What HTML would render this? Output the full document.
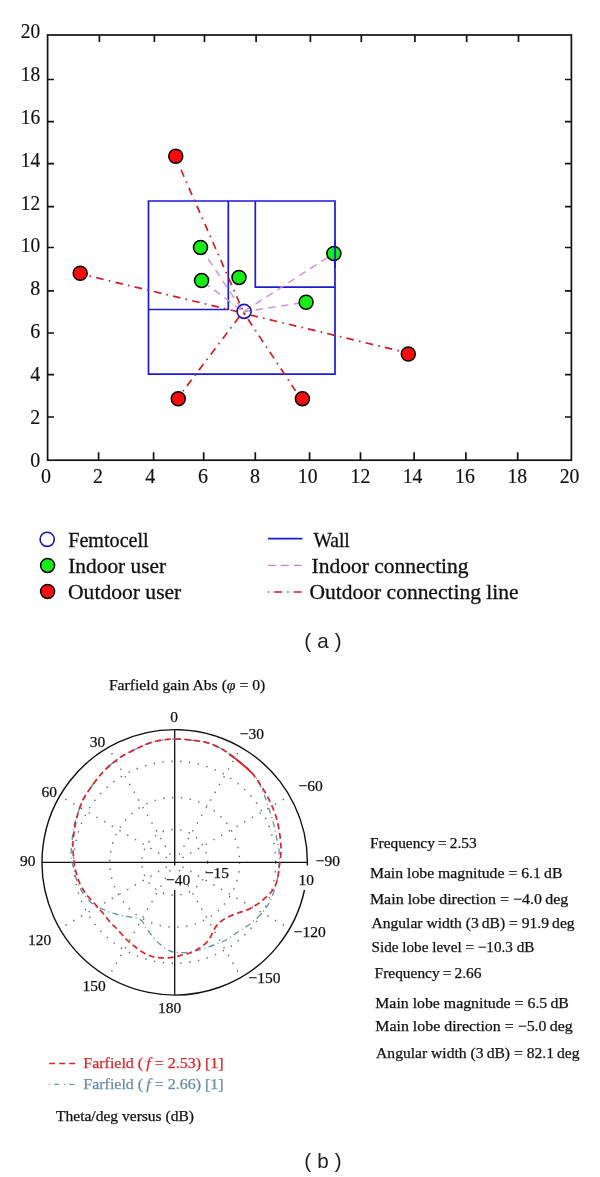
<!DOCTYPE html>
<html><head><meta charset="utf-8"><title>Figure</title>
<style>html,body{margin:0;padding:0;background:#fff;}svg{display:block;}</style></head>
<body><svg width="600" height="1177" viewBox="0 0 600 1177">
<rect width="600" height="1177" fill="#fff"/>
<g fill="none" stroke="#111" stroke-width="1.7">
<rect x="47.6" y="35.0" width="523.8" height="425.2"/>
<path d="M98.6 460.2V452.2M99.4 35.0V42.0M153.6 460.2V452.2M154.4 35.0V42.0M203.7 460.2V452.2M204.5 35.0V42.0M255.3 460.2V452.2M256.1 35.0V42.0M309.6 460.2V452.2M310.4 35.0V42.0M360.5 460.2V452.2M361.3 35.0V42.0M414.1 460.2V452.2M414.9 35.0V42.0M465.9 460.2V452.2M466.7 35.0V42.0M517.7 460.2V452.2M518.5 35.0V42.0M47.6 417.0H54.0M571.4 417.0H565.0M47.6 374.7H54.0M571.4 374.7H565.0M47.6 333.0H54.0M571.4 333.0H565.0M47.6 290.8H54.0M571.4 290.8H565.0M47.6 247.5H54.0M571.4 247.5H565.0M47.6 206.7H54.0M571.4 206.7H565.0M47.6 163.7H54.0M571.4 163.7H565.0M47.6 121.6H54.0M571.4 121.6H565.0M47.6 79.5H54.0M571.4 79.5H565.0"/>
</g>
<g font-family='"Liberation Serif", "Times New Roman", serif' font-size="21" fill="#111" stroke="#111" stroke-width="0.18">
<text x="40.2" y="466.5" text-anchor="end" textLength="10.0" lengthAdjust="spacingAndGlyphs">0</text>
<text x="40.2" y="423.7" text-anchor="end" textLength="10.0" lengthAdjust="spacingAndGlyphs">2</text>
<text x="40.2" y="380.8" text-anchor="end" textLength="10.0" lengthAdjust="spacingAndGlyphs">4</text>
<text x="40.2" y="338.0" text-anchor="end" textLength="10.0" lengthAdjust="spacingAndGlyphs">6</text>
<text x="40.2" y="295.1" text-anchor="end" textLength="10.0" lengthAdjust="spacingAndGlyphs">8</text>
<text x="40.2" y="252.3" text-anchor="end" textLength="19.4" lengthAdjust="spacingAndGlyphs">10</text>
<text x="40.2" y="209.5" text-anchor="end" textLength="19.4" lengthAdjust="spacingAndGlyphs">12</text>
<text x="40.2" y="166.6" text-anchor="end" textLength="19.4" lengthAdjust="spacingAndGlyphs">14</text>
<text x="40.2" y="123.8" text-anchor="end" textLength="19.4" lengthAdjust="spacingAndGlyphs">16</text>
<text x="40.2" y="80.9" text-anchor="end" textLength="19.4" lengthAdjust="spacingAndGlyphs">18</text>
<text x="40.2" y="38.1" text-anchor="end" textLength="19.4" lengthAdjust="spacingAndGlyphs">20</text>
<text x="45.9" y="482.7" text-anchor="middle" textLength="10.0" lengthAdjust="spacingAndGlyphs">0</text>
<text x="98" y="482.7" text-anchor="middle" textLength="10.0" lengthAdjust="spacingAndGlyphs">2</text>
<text x="150.3" y="482.7" text-anchor="middle" textLength="10.0" lengthAdjust="spacingAndGlyphs">4</text>
<text x="203" y="482.7" text-anchor="middle" textLength="10.0" lengthAdjust="spacingAndGlyphs">6</text>
<text x="255.1" y="482.7" text-anchor="middle" textLength="10.0" lengthAdjust="spacingAndGlyphs">8</text>
<text x="307.7" y="482.7" text-anchor="middle" textLength="19.7" lengthAdjust="spacingAndGlyphs">10</text>
<text x="360.4" y="482.7" text-anchor="middle" textLength="19.7" lengthAdjust="spacingAndGlyphs">12</text>
<text x="412.6" y="482.7" text-anchor="middle" textLength="19.7" lengthAdjust="spacingAndGlyphs">14</text>
<text x="464.9" y="482.7" text-anchor="middle" textLength="19.7" lengthAdjust="spacingAndGlyphs">16</text>
<text x="517.3" y="482.7" text-anchor="middle" textLength="19.7" lengthAdjust="spacingAndGlyphs">18</text>
<text x="569.6" y="482.7" text-anchor="middle" textLength="19.7" lengthAdjust="spacingAndGlyphs">20</text>
</g>
<g fill="none" stroke="#1c1ad4" stroke-width="1.7">
<path d="M148.5 201H335V374.2H148.5Z M228.3 201V309.5H148.5 M255.3 201V287.2H335"/>
</g>
<g fill="none" stroke="#cc8ddd" stroke-width="1.4" stroke-dasharray="7.5 5.5">
<path d="M200.5 247.4L243.3 311.8" stroke-dashoffset="11.9"/>
<path d="M201.6 280.6L243.3 311.8" stroke-dashoffset="10.5"/>
<path d="M333.9 253.5L243.3 311.8" stroke-dashoffset="5.4"/>
<path d="M306.1 302.2L243.3 311.8" stroke-dashoffset="8.3"/>
</g>
<g fill="none" stroke="#cf1e26" stroke-width="1.7" stroke-dasharray="7.6 5.2 1.6 5.34">
<path d="M178.8 164.8L244.1 313.3" stroke-dashoffset="14.30"/>
<path d="M89.2 276.0L244.3 313.3" stroke-dashoffset="12.50"/>
<path d="M399.3 350.9L244.0 313.5" stroke-dashoffset="12.41"/>
<path d="M182.9 391.3L241.9 313.3" stroke-dashoffset="12.94"/>
<path d="M295.6 390.9L244.1 313.3" stroke-dashoffset="0.46"/>
</g>
<g stroke="#000" stroke-width="1.5">
<circle cx="175.75" cy="156.25" r="7.0" fill="#ff0a0a"/>
<circle cx="80.2" cy="273.25" r="7.0" fill="#ff0a0a"/>
<circle cx="408.3" cy="354.0" r="7.0" fill="#ff0a0a"/>
<circle cx="178.25" cy="398.75" r="7.0" fill="#ff0a0a"/>
<circle cx="302.4" cy="398.7" r="7.0" fill="#ff0a0a"/>
<circle cx="200.5" cy="247.4" r="7.0" fill="#14ee14"/>
<circle cx="201.6" cy="280.6" r="7.0" fill="#14ee14"/>
<circle cx="239.0" cy="277.4" r="7.0" fill="#14ee14"/>
<circle cx="333.9" cy="253.5" r="7.0" fill="#14ee14"/>
<circle cx="306.1" cy="302.25" r="7.0" fill="#14ee14"/>
</g>
<path d="M335 240V268" stroke="#1c1ad4" stroke-width="1.7"/>
<circle cx="244.1" cy="311.4" r="7.0" fill="none" stroke="#1c14b0" stroke-width="1.6"/>
<circle cx="47.2" cy="539.3" r="7.1" fill="#fff" stroke="#1c14b0" stroke-width="1.6"/>
<circle cx="47.6" cy="565.4" r="7.0" fill="#14ee14" stroke="#000" stroke-width="1.5"/>
<circle cx="47.6" cy="591.4" r="7.0" fill="#ff0a0a" stroke="#000" stroke-width="1.5"/>
<path d="M268 538.7H302.4" stroke="#1c1ad4" stroke-width="1.7"/>
<path d="M268 565.3H302.4" stroke="#c67fd8" stroke-width="1.3" stroke-dasharray="7.8 5.2"/>
<path d="M267.75 592H302.4" stroke="#c8222a" stroke-width="1.6" stroke-dasharray="1.3 5.0 8 5.3"/>
<g font-family='"Liberation Serif", "Times New Roman", serif' font-size="21" fill="#111" stroke="#111" stroke-width="0.3">
<text x="68.2" y="546.9" textLength="80.5" lengthAdjust="spacingAndGlyphs">Femtocell</text>
<text x="68.2" y="572.9" textLength="98" lengthAdjust="spacingAndGlyphs">Indoor user</text>
<text x="68" y="598.5" textLength="113.3" lengthAdjust="spacingAndGlyphs">Outdoor user</text>
<text x="313.4" y="546.5" textLength="36.4" lengthAdjust="spacingAndGlyphs">Wall</text>
<text x="311.5" y="572.5" textLength="157.1" lengthAdjust="spacingAndGlyphs">Indoor connecting</text>
<text x="309.6" y="599" textLength="208.9" lengthAdjust="spacingAndGlyphs">Outdoor connecting line</text>
</g>
<text x="322.9" y="647.6" font-family='"Liberation Sans", Arial, sans-serif' font-size="20.6" fill="#222" text-anchor="middle" xml:space="preserve" textLength="37.4" lengthAdjust="spacing">( a )</text>
<text x="108.9" y="689.7" font-family='"Liberation Serif", "Times New Roman", serif' font-size="15" fill="#111" stroke="#111" stroke-width="0.25" textLength="156.4" lengthAdjust="spacingAndGlyphs">Farfield gain Abs (<tspan font-style="italic">φ</tspan> = 0)</text>
<g fill="none" stroke="#666" stroke-width="1.4" stroke-dasharray="1.4 7.5">
<circle cx="174.7" cy="862.3" r="32.9"/>
<circle cx="174.7" cy="862.3" r="64.9"/>
<circle cx="174.7" cy="862.3" r="101.0"/>
<path d="M179.2 854.5L241.0 747.4M182.5 857.8L289.6 795.9M182.5 866.8L289.6 928.6M179.2 870.1L241.0 977.2M170.2 870.1L108.3 977.2M166.9 866.8L59.8 928.6M166.9 857.8L59.8 795.9M170.2 854.5L108.3 747.4"/>
</g>
<path d="M307.36 865.50A132.7 132.7 0 1 0 304.48 890.00" fill="none" stroke="#111" stroke-width="1.4"/>
<path d="M42.0 862.3H307.4M174.7 729.6V865.4M174.7 890V995.0" fill="none" stroke="#111" stroke-width="1.3"/>
<path d="M175.0 739.0C180.0 738.9 184.8 739.4 190.0 740.0C195.2 740.6 201.0 741.1 206.0 742.4C211.0 743.7 215.7 745.7 220.0 748.0C224.3 750.3 228.3 753.3 232.0 756.0C235.7 758.7 238.8 761.3 242.0 764.0C245.2 766.7 248.3 769.2 251.0 772.0C253.7 774.8 255.8 777.3 258.0 781.0C260.2 784.7 262.3 789.8 264.0 794.0C265.7 798.2 266.7 802.0 268.0 806.0C269.3 810.0 270.8 814.0 272.0 818.0C273.2 822.0 274.2 826.3 275.0 830.0C275.8 833.7 276.3 836.7 277.0 840.0C277.7 843.3 278.7 846.3 279.0 850.0C279.3 853.7 279.0 859.0 279.0 862.0C279.0 865.0 279.2 865.7 279.0 868.0C278.8 870.3 278.5 873.3 278.0 876.0C277.5 878.7 276.8 881.0 276.0 884.0C275.2 887.0 274.3 890.5 273.0 894.0C271.7 897.5 270.2 901.5 268.0 905.0C265.8 908.5 263.0 911.8 260.0 915.0C257.0 918.2 253.7 921.2 250.0 924.0C246.3 926.8 242.0 929.3 238.0 932.0C234.0 934.7 230.0 937.8 226.0 940.0C222.0 942.2 218.0 943.5 214.0 945.0C210.0 946.5 206.0 947.8 202.0 949.0C198.0 950.2 194.0 951.4 190.0 952.0C186.0 952.6 181.3 952.7 178.0 952.5C174.7 952.3 172.7 952.1 170.0 951.0C167.3 949.9 164.7 948.2 162.0 946.0C159.3 943.8 156.7 941.0 154.0 938.0C151.3 935.0 148.0 930.8 146.0 928.0C144.0 925.2 143.7 922.7 142.0 921.0C140.3 919.3 139.0 918.8 136.0 918.0C133.0 917.2 128.0 916.8 124.0 916.0C120.0 915.2 116.0 914.3 112.0 913.0C108.0 911.7 103.0 909.3 100.0 908.0C97.0 906.7 96.3 906.8 94.0 905.0C91.7 903.2 88.3 899.8 86.0 897.0C83.7 894.2 81.7 891.2 80.0 888.0C78.3 884.8 77.2 881.7 76.0 878.0C74.8 874.3 73.8 869.3 73.0 866.0C72.2 862.7 71.2 862.0 71.0 858.0C70.8 854.0 71.5 847.3 72.0 842.0C72.5 836.7 72.8 831.3 74.0 826.0C75.2 820.7 77.3 814.7 79.0 810.0C80.7 805.3 81.5 802.5 84.0 798.0C86.5 793.5 90.7 787.5 94.0 783.0C97.3 778.5 100.7 774.5 104.0 771.0C107.3 767.5 110.7 764.7 114.0 762.0C117.3 759.3 120.3 757.2 124.0 755.0C127.7 752.8 132.0 750.9 136.0 749.0C140.0 747.1 144.0 745.0 148.0 743.6C152.0 742.2 155.5 741.2 160.0 740.4C164.5 739.6 170.0 739.1 175.0 739.0Z" fill="none" stroke="#6390ab" stroke-width="1.35" stroke-dasharray="6 3.5 1 3.5"/>
<path d="M175.0 739.0C180.0 738.9 184.8 739.4 190.0 740.0C195.2 740.6 201.0 741.1 206.0 742.4C211.0 743.7 215.7 745.7 220.0 748.0C224.3 750.3 228.3 753.3 232.0 756.0C235.7 758.7 238.8 761.3 242.0 764.0C245.2 766.7 248.3 769.2 251.0 772.0C253.7 774.8 255.5 777.3 258.0 781.0C260.5 784.7 263.7 789.8 266.0 794.0C268.3 798.2 270.2 801.7 272.0 806.0C273.8 810.3 275.7 815.0 277.0 820.0C278.3 825.0 279.3 831.0 280.0 836.0C280.7 841.0 281.0 845.7 281.0 850.0C281.0 854.3 280.3 859.0 280.0 862.0C279.7 865.0 279.3 865.7 279.0 868.0C278.7 870.3 278.5 873.3 278.0 876.0C277.5 878.7 277.0 881.5 276.0 884.0C275.0 886.5 274.0 888.5 272.0 891.0C270.0 893.5 266.7 896.7 264.0 899.0C261.3 901.3 258.7 903.2 256.0 905.0C253.3 906.8 251.0 908.3 248.0 909.6C245.0 910.9 241.3 911.8 238.0 913.0C234.7 914.2 231.0 915.5 228.0 917.0C225.0 918.5 222.2 920.2 220.0 922.0C217.8 923.8 216.5 925.7 215.0 928.0C213.5 930.3 212.5 933.5 211.0 936.0C209.5 938.5 208.2 940.8 206.0 943.0C203.8 945.2 200.7 947.3 198.0 949.0C195.3 950.7 192.7 952.0 190.0 953.0C187.3 954.0 184.7 954.3 182.0 955.0C179.3 955.7 177.0 956.5 174.0 957.0C171.0 957.5 167.3 958.0 164.0 958.0C160.7 958.0 157.3 957.8 154.0 957.0C150.7 956.2 147.3 954.8 144.0 953.0C140.7 951.2 137.0 948.3 134.0 946.0C131.0 943.7 128.7 941.7 126.0 939.0C123.3 936.3 120.7 932.8 118.0 930.0C115.3 927.2 112.7 925.0 110.0 922.0C107.3 919.0 104.7 915.2 102.0 912.0C99.3 908.8 96.7 906.0 94.0 903.0C91.3 900.0 88.3 897.2 86.0 894.0C83.7 890.8 81.7 887.7 80.0 884.0C78.3 880.3 77.0 875.7 76.0 872.0C75.0 868.3 74.5 865.7 74.0 862.0C73.5 858.3 73.2 853.3 73.0 850.0C72.8 846.7 72.7 846.0 73.0 842.0C73.3 838.0 74.0 831.3 75.0 826.0C76.0 820.7 77.5 814.7 79.0 810.0C80.5 805.3 81.5 802.5 84.0 798.0C86.5 793.5 90.7 787.5 94.0 783.0C97.3 778.5 100.7 774.5 104.0 771.0C107.3 767.5 110.7 764.7 114.0 762.0C117.3 759.3 120.3 757.2 124.0 755.0C127.7 752.8 132.0 750.9 136.0 749.0C140.0 747.1 144.0 745.0 148.0 743.6C152.0 742.2 155.5 741.2 160.0 740.4C164.5 739.6 170.0 739.1 175.0 739.0Z" fill="none" stroke="#d8262a" stroke-width="1.7" stroke-dasharray="6 3.6"/>
<path d="M229.5 754.6C233.5 757 237.5 760.5 242 764C245.5 766.8 248.5 769.5 251.3 772.6" fill="none" stroke="#d8262a" stroke-width="1.7"/>
<g font-family='"Liberation Serif", "Times New Roman", serif' font-size="15.5" fill="#111" stroke="#111" stroke-width="0.25">
<text x="174.2" y="721.7" text-anchor="middle">0</text>
<text x="97.5" y="747.2" text-anchor="middle">30</text>
<text x="251.9" y="739.2" text-anchor="middle">−30</text>
<text x="49.2" y="797.2" text-anchor="middle">60</text>
<text x="310.7" y="791.2" text-anchor="middle">−60</text>
<text x="27.7" y="866.2" text-anchor="middle">90</text>
<text x="327.8" y="866.2" text-anchor="middle">−90</text>
<text x="39.5" y="944.8" text-anchor="middle">120</text>
<text x="309.8" y="937.2" text-anchor="middle">−120</text>
<text x="94.2" y="990.5" text-anchor="middle">150</text>
<text x="264.6" y="983.3" text-anchor="middle">−150</text>
<text x="169.6" y="1012.7" text-anchor="middle">180</text>
<text x="178.2" y="884.8" text-anchor="middle">−40</text>
<text x="217" y="877.7" text-anchor="middle">−15</text>
<text x="306.3" y="885" text-anchor="middle">10</text>
</g>
<g font-family='"Liberation Serif", "Times New Roman", serif' font-size="15" fill="#111" stroke="#111" stroke-width="0.25">
<text x="370" y="848.2" textLength="106.6" lengthAdjust="spacingAndGlyphs">Frequency = 2.53</text>
<text x="369.9" y="878.3" textLength="192.5" lengthAdjust="spacingAndGlyphs">Main lobe magnitude = 6.1 dB</text>
<text x="369.9" y="904.2" textLength="198.4" lengthAdjust="spacingAndGlyphs">Main lobe direction = −4.0 deg</text>
<text x="371.5" y="928" textLength="203.1" lengthAdjust="spacingAndGlyphs">Angular width (3 dB) = 91.9 deg</text>
<text x="371.5" y="952.1" textLength="162.9" lengthAdjust="spacingAndGlyphs">Side lobe level = −10.3 dB</text>
<text x="374.6" y="977.8" textLength="106.9" lengthAdjust="spacingAndGlyphs">Frequency = 2.66</text>
<text x="375.3" y="1008" textLength="193.6" lengthAdjust="spacingAndGlyphs">Main lobe magnitude = 6.5 dB</text>
<text x="375.3" y="1031" textLength="197.4" lengthAdjust="spacingAndGlyphs">Main lobe direction = −5.0 deg</text>
<text x="376.1" y="1057.8" textLength="203.5" lengthAdjust="spacingAndGlyphs">Angular width (3 dB) = 82.1 deg</text>
</g>
<path d="M49.2 1063.5H75" stroke="#d8262a" stroke-width="1.6" stroke-dasharray="5.8 4.2" fill="none"/>
<path d="M49.2 1084.3H75" stroke="#6a93b5" stroke-width="1.3" stroke-dasharray="1 4 5 5" fill="none"/>
<text x="83.3" y="1067.8" font-family='"Liberation Serif", "Times New Roman", serif' font-size="15" fill="#d42a2a" stroke="#d42a2a" stroke-width="0.25" textLength="140.3" lengthAdjust="spacingAndGlyphs">Farfield ( <tspan font-style="italic">f</tspan> = 2.53) [1]</text>
<text x="83.3" y="1088.6" font-family='"Liberation Serif", "Times New Roman", serif' font-size="15" fill="#668ca8" stroke="#668ca8" stroke-width="0.25" textLength="140.3" lengthAdjust="spacingAndGlyphs">Farfield ( <tspan font-style="italic">f</tspan> = 2.66) [1]</text>
<text x="56" y="1121" font-family='"Liberation Serif", "Times New Roman", serif' font-size="15" fill="#111" stroke="#111" stroke-width="0.25" textLength="138" lengthAdjust="spacingAndGlyphs">Theta/deg versus (dB)</text>
<text x="322.9" y="1167.5" font-family='"Liberation Sans", Arial, sans-serif' font-size="20.6" fill="#222" text-anchor="middle" xml:space="preserve" textLength="37.4" lengthAdjust="spacing">( b )</text>
</svg></body></html>
